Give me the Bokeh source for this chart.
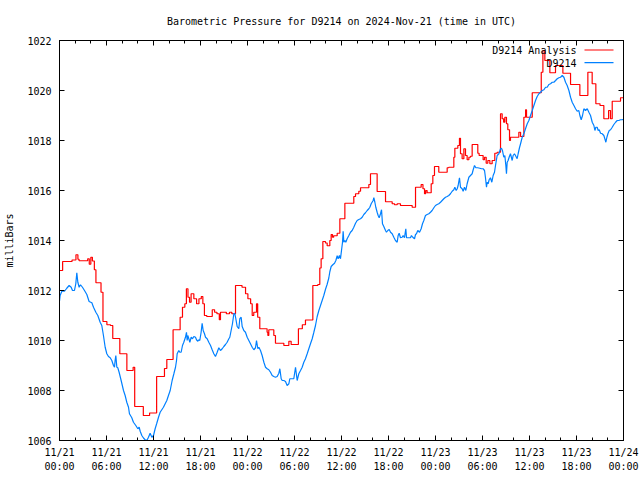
from bokeh.plotting import figure
from bokeh.models import Range1d, FixedTicker, LinearAxis, Label, Arrow
from bokeh.embed import file_html
from bokeh.resources import INLINE

FONT = "DejaVu Sans Mono"

title_text = "Barometric Pressure for D9214 on 2024-Nov-21 (time in UTC)"
y_label = "milliBars"
legend_names = ["D9214 Analysis", "D9214"]

# x axis: hours since 2024-11-21 00:00 UTC
x_tick_hours = [0, 6, 12, 18, 24, 30, 36, 42, 48, 54, 60, 66, 72]
x_minor_hours = list(range(0, 73, 2))
x_tick_labels = ["11/21\n00:00", "11/21\n06:00", "11/21\n12:00", "11/21\n18:00",
                 "11/22\n00:00", "11/22\n06:00", "11/22\n12:00", "11/22\n18:00",
                 "11/23\n00:00", "11/23\n06:00", "11/23\n12:00", "11/23\n18:00",
                 "11/24\n00:00"]
y_ticks = [1006, 1008, 1010, 1012, 1014, 1016, 1018, 1020, 1022]

# Analysis series (stepped)
analysis_hours = [0.0, 0.4, 1.6, 2.1, 2.35, 2.5, 3.6, 3.8, 4.0, 4.2, 4.45, 4.65, 5.3, 5.55,
                  6.05, 6.5, 6.8, 7.7, 8.6, 9.4, 9.6, 10.7, 11.5, 12.4, 13.4, 13.7, 14.5,
                  15.4, 15.7, 16.0, 16.2, 16.4, 16.6, 16.8, 17.15, 17.5, 17.8, 18.1, 18.3,
                  18.5, 18.8, 19.5, 19.8, 20.1, 20.4, 20.55, 21.3, 21.7, 22.0, 22.47, 23.3,
                  23.75, 24.05, 24.4, 24.6, 24.8, 25.15, 25.3, 25.57, 26.5, 26.6, 26.72,
                  27.36, 27.57, 28.64, 29.28, 29.57, 30.5, 31.0, 31.4, 32.34, 32.98, 33.23,
                  33.4, 33.62, 33.95, 34.17, 34.51, 34.68, 34.85, 35.0, 35.45, 35.79, 36.43,
                  37.57, 37.79, 38.21, 38.43, 39.49, 39.7, 40.55, 41.62, 42.47, 42.77, 43.11,
                  43.53, 45.02, 45.45, 46.17, 46.4, 46.6, 46.75, 46.93, 47.45, 47.66, 47.87,
                  48.42, 49.49, 49.7, 50.34, 50.47, 50.85, 51.06, 51.19, 51.4, 51.62, 51.83,
                  52.04, 52.26, 52.47, 52.68, 53.4, 53.57, 54.08, 54.26, 54.47, 54.68, 54.94,
                  55.23, 55.57, 55.87, 56.3, 56.51, 56.7, 56.85, 57.06, 57.23, 57.45, 57.57,
                  58.64, 58.86, 59.28, 59.5, 59.62, 60.35, 61.5, 61.71, 61.96, 62.6, 63.32,
                  64.26, 65.24, 66.43, 67.45, 68.0, 68.47, 69.0, 69.49, 70.1, 70.34, 70.56,
                  71.62, 72.0]
analysis_mbar = [1012.80, 1013.16, 1013.22, 1013.43, 1013.25, 1013.19, 1013.27, 1013.05,
                 1013.33, 1013.18, 1012.83, 1012.31, 1011.93, 1010.76, 1010.63, 1010.60,
                 1010.08, 1009.47, 1008.80, 1008.93, 1007.36, 1007.00, 1007.10, 1008.56,
                 1008.88, 1009.24, 1010.43, 1010.93, 1011.33, 1011.47, 1012.07, 1011.73,
                 1011.53, 1011.87, 1011.67, 1011.47, 1011.67, 1011.76, 1011.47, 1011.00,
                 1010.96, 1011.23, 1011.13, 1011.07, 1010.83, 1011.13, 1011.07, 1011.13,
                 1011.07, 1012.20, 1012.13, 1011.87, 1011.67, 1011.47, 1011.00, 1011.13,
                 1011.47, 1010.93, 1010.47, 1010.33, 1010.20, 1010.43, 1010.20, 1009.89,
                 1009.80, 1009.97, 1009.84, 1010.47, 1010.63, 1010.82, 1012.20, 1012.24,
                 1012.90, 1013.27, 1013.96, 1013.90, 1013.79, 1014.00, 1014.24, 1014.13,
                 1014.19, 1014.29, 1014.87, 1015.49, 1015.76, 1015.87, 1015.97, 1016.11,
                 1016.24, 1016.67, 1015.96, 1015.55, 1015.47, 1015.43, 1015.47, 1015.40,
                 1015.33, 1016.13, 1016.24, 1016.07, 1015.87, 1016.00, 1015.91, 1016.27,
                 1016.60, 1016.96, 1016.73, 1016.91, 1016.93, 1017.33, 1017.69, 1017.80,
                 1018.09, 1017.47, 1017.27, 1017.67, 1017.40, 1017.23, 1017.33, 1017.37,
                 1017.84, 1017.49, 1017.40, 1017.23, 1017.33, 1017.09, 1017.20, 1017.07,
                 1017.20, 1017.49, 1017.53, 1019.07, 1018.87, 1018.73, 1018.93, 1018.67,
                 1018.43, 1018.00, 1018.13, 1018.33, 1018.16, 1018.93, 1019.23, 1018.93,
                 1019.91, 1020.73, 1021.60, 1021.20, 1020.71, 1021.00, 1020.69, 1020.24,
                 1019.80, 1020.73, 1020.27, 1019.47, 1019.40, 1018.87, 1019.20, 1018.87,
                 1019.57, 1019.71, 1019.71]

# Observed series
obs_hours = [0.0, 0.08, 0.3, 0.64, 0.93, 1.23, 1.49, 1.66, 1.91, 2.08, 2.21, 2.34, 2.51,
             2.68, 2.93, 3.19, 3.49, 3.78, 4.13, 4.34, 4.64, 4.89, 5.19, 5.4, 5.61, 5.83,
             6.04, 6.25, 6.47, 6.68, 6.89, 7.02, 7.1, 7.19, 7.32, 7.44, 7.61, 7.87, 8.17,
             8.38, 8.59, 8.81, 8.93, 9.23, 9.44, 9.74, 10.0, 10.17, 10.3, 10.51, 10.72,
             10.93, 11.15, 11.36, 11.57, 11.79, 12.0, 12.21, 12.42, 12.64, 12.85, 13.06,
             13.27, 13.49, 13.7, 13.91, 14.13, 14.38, 14.6, 14.81, 14.94, 15.02, 15.23,
             15.36, 15.53, 15.7, 15.87, 16.08, 16.21, 16.3, 16.38, 16.51, 16.64, 16.81,
             16.98, 17.15, 17.36, 17.49, 17.66, 17.79, 17.91, 18.08, 18.21, 18.34, 18.51,
             18.64, 18.85, 19.06, 19.28, 19.49, 19.7, 19.91, 20.13, 20.34, 20.55, 20.77,
             20.98, 21.19, 21.4, 21.62, 21.74, 21.91, 22.08, 22.26, 22.38, 22.51, 22.68,
             22.89, 23.02, 23.19, 23.32, 23.53, 23.74, 23.96, 24.17, 24.38, 24.6, 24.81,
             25.02, 25.15, 25.32, 25.45, 25.66, 25.87, 26.09, 26.3, 26.51, 26.72, 26.94,
             27.15, 27.36, 27.57, 27.79, 28.0, 28.13, 28.3, 28.43, 28.64, 28.85, 29.06,
             29.28, 29.4, 29.57, 29.91, 30.13, 30.34, 30.55, 30.77, 30.98, 31.19, 31.4,
             31.62, 31.83, 32.04, 32.26, 32.47, 32.68, 32.89, 33.11, 33.32, 33.53, 33.74,
             33.96, 34.17, 34.38, 34.51, 34.68, 34.89, 35.11, 35.28, 35.45, 35.57, 35.74,
             35.87, 36.0, 36.13, 36.21, 36.3, 36.43, 36.55, 36.72, 36.94, 37.15, 37.36,
             37.57, 37.79, 38.0, 38.21, 38.43, 38.64, 38.85, 39.06, 39.28, 39.49, 39.62,
             39.79, 40.04, 40.13, 40.26, 40.38, 40.55, 40.68, 40.81, 40.98, 41.11, 41.23,
             41.4, 41.62, 41.74, 41.91, 42.09, 42.26, 42.47, 42.68, 42.89, 43.11, 43.23,
             43.36, 43.53, 43.74, 43.87, 44.04, 44.21, 44.3, 44.6, 44.81, 44.93, 45.1,
             45.32, 45.45, 45.57, 45.74, 45.96, 46.17, 46.34, 46.51, 46.72, 46.93, 47.15,
             47.36, 47.57, 47.79, 48.0, 48.21, 48.42, 48.64, 48.85, 49.06, 49.28, 49.49,
             49.7, 49.91, 50.13, 50.34, 50.47, 50.64, 50.77, 50.89, 51.06, 51.19, 51.4,
             51.53, 51.7, 51.87, 52.04, 52.26, 52.47, 52.68, 52.81, 52.98, 53.15, 53.4,
             53.66, 53.87, 54.08, 54.26, 54.38, 54.51, 54.6, 54.72, 54.85, 55.02, 55.19,
             55.36, 55.53, 55.66, 55.87, 56.09, 56.3, 56.42, 56.55, 56.72, 56.85, 56.98,
             57.06, 57.15, 57.27, 57.4, 57.57, 57.79, 57.91, 58.08, 58.21, 58.42, 58.55,
             58.72, 58.86, 59.07, 59.28, 59.49, 59.71, 59.92, 60.13, 60.35, 60.56, 60.77,
             60.98, 61.2, 61.41, 61.62, 61.84, 62.05, 62.26, 62.47, 62.69, 62.9, 63.11,
             63.33, 63.54, 63.75, 63.96, 64.18, 64.39, 64.6, 64.81, 65.03, 65.24, 65.45,
             65.67, 65.88, 66.09, 66.3, 66.43, 66.6, 66.77, 66.94, 67.15, 67.37, 67.58,
             67.79, 68.01, 68.22, 68.35, 68.47, 68.64, 68.77, 68.9, 69.07, 69.28, 69.49,
             69.62, 69.75, 69.88, 70.01, 70.18, 70.35, 70.56, 70.77, 70.99, 71.2, 71.41,
             71.62, 71.84, 72.0]
obs_mbar = [1011.57, 1011.80, 1011.97, 1011.97, 1012.09, 1012.20, 1012.13, 1012.00, 1012.00,
            1012.27, 1012.71, 1012.33, 1012.13, 1012.23, 1012.13, 1012.00, 1011.84, 1011.56,
            1011.51, 1011.33, 1011.13, 1011.00, 1010.73, 1010.60, 1010.20, 1009.73, 1009.47,
            1009.36, 1009.31, 1009.20, 1009.00, 1008.93, 1009.20, 1009.40, 1008.93, 1008.91,
            1008.73, 1008.40, 1008.00, 1007.80, 1007.53, 1007.33, 1007.07, 1006.91, 1006.73,
            1006.60, 1006.47, 1006.53, 1006.37, 1006.20, 1006.10, 1006.03, 1006.00, 1006.13,
            1006.29, 1006.13, 1006.20, 1006.47, 1006.69, 1006.93, 1007.13, 1007.23, 1007.33,
            1007.47, 1007.60, 1007.80, 1008.00, 1008.40, 1008.67, 1008.93, 1009.20, 1009.47,
            1009.60, 1009.53, 1009.53, 1009.80, 1009.93, 1010.13, 1010.33, 1010.00, 1010.20,
            1010.07, 1009.93, 1010.13, 1010.07, 1010.16, 1010.13, 1010.03, 1009.97, 1010.03,
            1010.00, 1010.33, 1010.69, 1010.40, 1010.27, 1010.13, 1010.07, 1009.93, 1009.80,
            1009.63, 1009.47, 1009.36, 1009.53, 1009.71, 1009.60, 1009.67, 1009.76, 1009.84,
            1009.93, 1010.07, 1010.13, 1010.40, 1010.67, 1011.07, 1011.09, 1010.87, 1010.56,
            1010.47, 1010.87, 1010.93, 1010.56, 1010.40, 1010.33, 1010.13, 1010.00, 1009.87,
            1009.73, 1009.63, 1009.71, 1010.00, 1009.67, 1009.73, 1009.60, 1009.40, 1009.13,
            1008.93, 1008.87, 1008.83, 1008.73, 1008.60, 1008.56, 1008.53, 1008.56, 1008.69,
            1008.87, 1008.47, 1008.40, 1008.40, 1008.36, 1008.20, 1008.27, 1008.47, 1008.47,
            1008.47, 1008.93, 1008.40, 1008.67, 1008.80, 1008.93, 1009.13, 1009.27, 1009.47,
            1009.67, 1009.87, 1010.07, 1010.33, 1010.60, 1010.95, 1011.20, 1011.40, 1011.60,
            1011.80, 1012.05, 1012.25, 1012.50, 1012.75, 1012.96, 1013.03, 1013.09, 1013.20,
            1013.39, 1013.27, 1013.40, 1013.27, 1013.60, 1013.93, 1014.37, 1013.93, 1014.00,
            1013.93, 1014.07, 1014.20, 1014.33, 1014.40, 1014.53, 1014.69, 1014.80, 1014.84,
            1014.87, 1014.93, 1015.04, 1015.11, 1015.20, 1015.27, 1015.33, 1015.47, 1015.60,
            1015.71, 1015.53, 1015.33, 1015.13, 1015.00, 1014.91, 1015.07, 1015.23, 1014.67,
            1014.56, 1014.40, 1014.33, 1014.40, 1014.44, 1014.33, 1014.27, 1014.13, 1014.00,
            1013.93, 1014.20, 1014.29, 1014.11, 1014.13, 1014.20, 1014.11, 1014.47, 1014.11,
            1014.11, 1014.11, 1014.20, 1014.13, 1014.07, 1014.24, 1014.27, 1014.40, 1014.33,
            1014.47, 1014.67, 1014.80, 1015.00, 1015.04, 1015.07, 1015.13, 1015.20, 1015.31,
            1015.40, 1015.44, 1015.47, 1015.53, 1015.60, 1015.67, 1015.73, 1015.76, 1015.80,
            1015.87, 1015.97, 1016.03, 1016.13, 1016.00, 1016.07, 1016.20, 1016.51, 1016.13,
            1016.07, 1015.97, 1016.13, 1016.00, 1016.27, 1016.53, 1016.60, 1016.67, 1016.83,
            1017.00, 1016.91, 1016.91, 1016.89, 1016.87, 1016.87, 1016.80, 1016.51, 1016.13,
            1016.33, 1016.27, 1016.43, 1016.51, 1016.33, 1016.60, 1016.73, 1017.00, 1017.40,
            1017.47, 1017.67, 1017.69, 1017.60, 1017.33, 1017.40, 1017.00, 1016.67, 1017.13,
            1017.20, 1017.33, 1017.47, 1017.20, 1017.40, 1017.47, 1017.40, 1017.27, 1017.47,
            1017.71, 1017.87, 1018.13, 1018.27, 1018.47, 1018.67, 1018.80, 1019.00, 1019.20,
            1019.40, 1019.60, 1019.76, 1019.87, 1019.93, 1020.00, 1020.03, 1020.13, 1020.13,
            1020.24, 1020.27, 1020.33, 1020.33, 1020.40, 1020.47, 1020.51, 1020.53, 1020.60,
            1020.53, 1020.33, 1020.20, 1020.00, 1019.73, 1019.53, 1019.40, 1019.27, 1019.17,
            1019.20, 1019.00, 1018.83, 1019.00, 1019.27, 1019.20, 1019.27, 1019.13, 1019.00,
            1018.73, 1018.60, 1018.40, 1018.53, 1018.53, 1018.40, 1018.43, 1018.29, 1018.27,
            1018.20, 1018.07, 1017.93, 1018.13, 1018.27, 1018.40, 1018.43, 1018.53, 1018.64,
            1018.73, 1018.80, 1018.80, 1018.83, 1018.83, 1018.85]

RED = "#ff0000"
BLUE = "#0080ff"

p = figure(width=640, height=480, output_backend="svg", toolbar_location=None,
           x_range=Range1d(0, 72), y_range=Range1d(1006, 1022),
           min_border_left=59, min_border_right=17, min_border_top=40, min_border_bottom=40,
           x_axis_type=None, y_axis_type=None)
p.xgrid.visible = False
p.ygrid.visible = False
p.background_fill_color = "white"
p.border_fill_color = "white"
p.outline_line_color = "black"

p.title.text = title_text
p.title.align = "center"
p.title.vertical_align = "top"
p.title.standoff = 24
p.title.text_font = FONT
p.title.text_font_size = "10px"
p.title.text_font_style = "normal"
p.title.text_color = "black"

def style_axis(ax):
    ax.axis_line_color = "black"
    ax.major_tick_line_color = "black"
    ax.minor_tick_line_color = "black"
    ax.major_tick_in = 5
    ax.major_tick_out = 0
    ax.minor_tick_in = 3
    ax.minor_tick_out = 0
    ax.major_label_text_font = FONT
    ax.major_label_text_font_size = "10px"
    ax.major_label_text_color = "black"

xb = LinearAxis(ticker=FixedTicker(ticks=x_tick_hours, minor_ticks=x_minor_hours),
                major_label_overrides={h: lab for h, lab in zip(x_tick_hours, x_tick_labels)})
style_axis(xb)
xb.major_label_standoff = 6
xb.major_label_text_line_height = 1.35
p.add_layout(xb, "below")

xt = LinearAxis(ticker=FixedTicker(ticks=x_tick_hours, minor_ticks=x_minor_hours),
                major_label_overrides={h: "" for h in x_tick_hours})
style_axis(xt)
xt.major_label_standoff = 0
xt.axis_label_standoff = 0
p.add_layout(xt, "above")

yl = LinearAxis(ticker=FixedTicker(ticks=y_ticks, minor_ticks=[]), axis_label=y_label)
style_axis(yl)
yl.major_label_standoff = 8
yl.axis_label_text_font = FONT
yl.axis_label_text_font_size = "10px"
yl.axis_label_text_font_style = "normal"
yl.axis_label_text_color = "black"
yl.axis_label_standoff = 9
p.add_layout(yl, "left")

yr = LinearAxis(ticker=FixedTicker(ticks=y_ticks, minor_ticks=[]),
                major_label_overrides={t: "" for t in y_ticks})
style_axis(yr)
yr.major_label_standoff = 0
yr.axis_label_standoff = 0
p.add_layout(yr, "right")

p.step(x=analysis_hours, y=analysis_mbar, mode="after", line_color=RED, line_width=1.2)
p.line(x=obs_hours, y=obs_mbar, line_color=BLUE, line_width=1.2)

# gnuplot-style key: text on the left, sample line on the right
for i, (name, col) in enumerate(zip(legend_names, [RED, BLUE])):
    ty = 390 - 12.7 * i
    p.add_layout(Label(x=517, y=ty, x_units="screen", y_units="screen", text=name,
                       text_align="right", text_baseline="middle", text_font=FONT,
                       text_font_size="10px", text_color="black"))
    p.add_layout(Arrow(x_start=525, y_start=ty + 0.5, x_end=554, y_end=ty + 0.5,
                       start_units="screen", end_units="screen", end=None,
                       line_color=col, line_width=1.2))

open("out.html", "w").write(file_html(p, INLINE))
